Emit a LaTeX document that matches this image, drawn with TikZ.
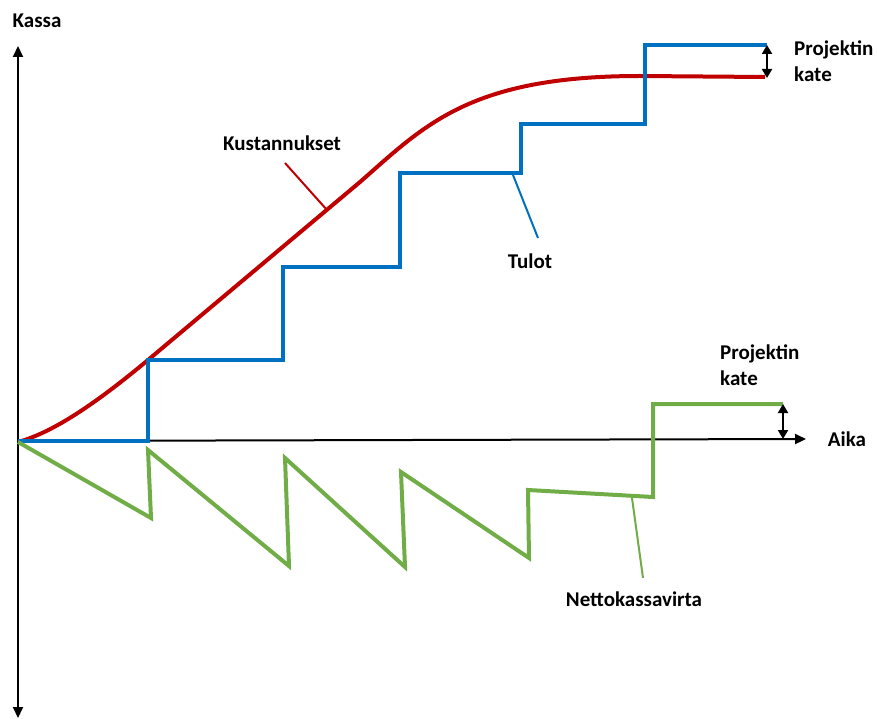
\documentclass[tikz,border=0pt]{standalone}
\usepackage{fontspec}
\setmainfont{Carlito}
\usetikzlibrary{arrows.meta}
\definecolor{costred}{HTML}{C00000}
\definecolor{incblue}{HTML}{0070C0}
\definecolor{netgreen}{HTML}{70AD47}
\tikzset{
  axis/.style={line width=2pt, -{Triangle[length=11pt,width=10pt]}},
  series/.style={line width=4pt, line join=miter},
  leader/.style={line width=2pt},
  margin/.style={line width=2pt, {Triangle[length=9pt,width=10pt]}-{Triangle[length=9pt,width=10pt]}},
  lbl/.style={font=\fontsize{21}{26}\selectfont\bfseries, inner sep=0pt},
  lblleft/.style={lbl, anchor=west, align=left}
}
\begin{document}
\begin{tikzpicture}[x=1pt, y=-1pt]
\useasboundingbox (0,0) rectangle (878,719);

% axes
\coordinate (o) at (18,441);
\coordinate (ytop) at (18,46);
\coordinate (ybot) at (18,718);
\coordinate (xend) at (806,439);
\draw[axis] (o) -- (ytop);
\draw[axis] (o) -- (ybot);
\draw[axis] (o) -- (xend);
\node[lbl] (kassa) at (37,21) {Kassa};
\node[lbl] (aika) at (847,439) {Aika};

% costs: slow start, linear growth, levelling off
\draw[series, costred] (18,442) .. controls (55,432) and (100,400) .. (148,360)
  -- (360,182) .. controls (425,125) and (470,76) .. (640,76) -- (765,77);

% income steps
\draw[series, incblue] (18,441) -- (148,441) -- (148,360) -- (283,360) -- (283,267)
  -- (400,267) -- (400,173) -- (521,173) -- (521,124) -- (645,124) -- (645,45) -- (767,45);

% net cash flow
\draw[series, netgreen] (18,442) -- (151,518) -- (148,450) -- (289,566) -- (285,458)
  -- (405,567) -- (401,472) -- (529,558) -- (528,490) -- (653,497) -- (653,404) -- (783,404);

% margin markers
\coordinate (mtop) at (767,45);
\coordinate (mbot) at (767,78);
\draw[margin] (mtop) -- (mbot);
\coordinate (ntop) at (783,404);
\coordinate (nbot) at (783,439);
\draw[margin] (ntop) -- (nbot);
\node[lblleft] (kate1) at (794,61) {Projektin\\kate};
\node[lblleft] (kate2) at (720,365) {Projektin\\kate};

% series labels with leaders
\node[lbl] (kust) at (282,143) {Kustannukset};
\node[lbl] (tulot) at (530,261) {Tulot};
\node[lbl] (netto) at (634,599) {Nettokassavirta};
\coordinate (kustpt) at (327,210);
\coordinate (tulotpt) at (513,175);
\coordinate (nettopt) at (632,498);
\draw[leader, costred] (285,163) -- (kustpt);
\draw[leader, incblue] (538,238) -- (tulotpt);
\draw[leader, netgreen] (643,578) -- (nettopt);
\end{tikzpicture}
\end{document}
